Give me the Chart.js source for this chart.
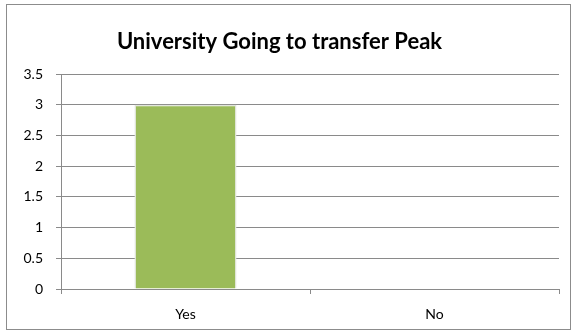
<!DOCTYPE html>
<html><head><meta charset="utf-8">
<script src="https://cdn.jsdelivr.net/npm/chart.js@4"></script>
<style>html,body{margin:0;padding:0;background:#fff}#wrap{width:576px;height:332px;position:relative}</style>
</head><body><div id="wrap"><canvas id="c" width="576" height="332"></canvas></div>
<script>
const categories = ["Yes", "No"];
const values = [3, 0];
const seriesName = "Series1";
const titleText = "University Going to transfer Peak";
const yMin = 0, yMax = 3.5, yStep = 0.5;

const frame = {
  id: 'frame',
  beforeDraw(chart) {
    const ctx = chart.ctx;
    ctx.save();
    ctx.fillStyle = '#fff';
    ctx.fillRect(0, 0, chart.width, chart.height);
    ctx.strokeStyle = '#8c8c8c';
    ctx.lineWidth = 1;
    ctx.strokeRect(6.5, 4.5, 564, 325);
    ctx.restore();
  }
};

new Chart(document.getElementById('c'), {
  type: 'bar',
  data: {
    labels: categories,
    datasets: [{
      label: seriesName,
      data: values,
      backgroundColor: '#9bbb59',
      borderColor: '#e2e6dc',
      borderWidth: 1.5,
      categoryPercentage: 1,
      barPercentage: 0.41
    }]
  },
  options: {
    responsive: false,
    animation: false,
    layout: { padding: { left: 0, right: 17, top: 0, bottom: 0 } },
    plugins: {
      legend: { display: false },
      tooltip: { enabled: false },
      title: {
        display: true,
        text: titleText,
        color: '#000',
        font: { family: 'Lato', size: 22, weight: 'bold' },
        padding: { top: 29, bottom: 18.6 }
      }
    },
    scales: {
      y: {
        min: yMin, max: yMax,
        ticks: { stepSize: yStep, color: '#000', font: { family: 'Lato', size: 14 }, padding: 13, callback: v => String(v) },
        grid: { color: '#8a8a8a', tickLength: 5, lineWidth: 1 },
        border: { color: '#8a8a8a' },
        afterFit(s) { s.width = 61; }
      },
      x: {
        offset: true,
        ticks: { color: '#000', font: { family: 'Lato', size: 14 }, padding: 12 },
        grid: { offset: true, drawOnChartArea: false, drawTicks: true, tickLength: 5, color: '#8a8a8a' },
        border: { color: '#8a8a8a' },
        afterFit(s) { s.height = 43; }
      }
    }
  },
  plugins: [frame]
});
</script></body></html>
